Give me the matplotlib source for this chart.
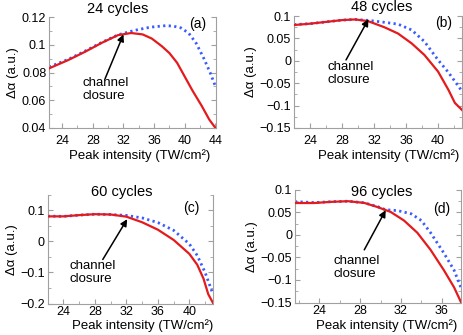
import matplotlib
matplotlib.use("Agg")
import matplotlib.pyplot as plt
from matplotlib.ticker import FuncFormatter, AutoMinorLocator

plt.rcParams['font.family'] = ['Liberation Sans', 'DejaVu Sans']

# panel (a) 24 cycles
a_x_red = [22.3, 24.8, 27.0, 29.2, 31.3, 33.0, 34.5, 35.7, 37.0, 38.0, 39.0, 40.0, 41.0, 42.2, 43.2, 44.0]
a_y_red = [0.083, 0.089, 0.095, 0.1015, 0.107, 0.1085, 0.1075, 0.1045, 0.099, 0.094, 0.087, 0.077, 0.067, 0.056, 0.046, 0.040]
a_x_blue = [22.3, 24.8, 27.0, 29.2, 31.3, 33.5, 35.5, 37.5, 38.5, 39.5, 40.5, 41.5, 42.5, 43.3, 44.0]
a_y_blue = [0.084, 0.0895, 0.0955, 0.1018, 0.1072, 0.1105, 0.1127, 0.1138, 0.1135, 0.1122, 0.1085, 0.101, 0.090, 0.080, 0.070]

# panel (b) 48 cycles
b_x_red = [22.0, 24.0, 26.0, 28.0, 29.6, 31.2, 33.3, 35.0, 36.7, 38.3, 40.0, 41.3, 42.1, 43.0]
b_y_red = [0.080, 0.083, 0.087, 0.091, 0.0925, 0.089, 0.075, 0.061, 0.039, 0.013, -0.024, -0.065, -0.094, -0.110]
b_x_blue = [22.0, 24.0, 26.0, 28.0, 29.6, 31.2, 32.9, 35.0, 36.7, 38.3, 40.0, 41.3, 43.0]
b_y_blue = [0.081, 0.083, 0.087, 0.091, 0.0925, 0.0905, 0.087, 0.082, 0.069, 0.043, 0.002, -0.026, -0.068]

# panel (c) 60 cycles
c_x_red = [22.0, 24.0, 26.0, 28.0, 30.0, 32.0, 34.0, 36.0, 38.0, 40.0, 41.0, 41.8, 42.4, 43.0]
c_y_red = [0.081, 0.081, 0.085, 0.088, 0.087, 0.080, 0.062, 0.038, 0.005, -0.040, -0.075, -0.120, -0.170, -0.198]
c_x_blue = [22.0, 24.0, 26.0, 28.0, 30.0, 32.0, 34.0, 36.0, 38.0, 40.0, 41.0, 42.0, 43.0]
c_y_blue = [0.082, 0.081, 0.085, 0.088, 0.087, 0.084, 0.076, 0.061, 0.036, -0.008, -0.045, -0.100, -0.170]

# panel (d) 96 cycles
d_x_red = [21.6, 23.5, 25.1, 26.8, 28.4, 29.7, 31.0, 32.3, 33.6, 34.9, 36.2, 37.2, 37.9]
d_y_red = [0.071, 0.071, 0.0735, 0.075, 0.0712, 0.062, 0.051, 0.032, 0.005, -0.033, -0.078, -0.116, -0.150]
d_x_blue = [21.6, 23.5, 25.1, 26.8, 28.4, 29.7, 30.5, 31.7, 33.0, 34.0, 34.9, 36.2, 37.2, 37.9]
d_y_blue = [0.074, 0.072, 0.0738, 0.075, 0.0715, 0.063, 0.056, 0.054, 0.047, 0.032, 0.005, -0.040, -0.078, -0.118]

panels = [
    dict(rect=[0.106, 0.618, 0.361, 0.331], xr=a_x_red, yr=a_y_red, xb=a_x_blue, yb=a_y_blue,
         xlim=(22.3, 44.1), ylim=(0.04, 0.12), xt=[24, 28, 32, 36, 40, 44], yt=[0.04, 0.06, 0.08, 0.1, 0.12],
         title='24 cycles', tpos=(0.41, 1.07), lab='(a)', lpos=(0.89, 0.94),
         tip=(32.0, 0.1075), tail=(29.6, 0.0755), txt=(26.7, 0.077), xl=69, xly=156, pad=5.0),
    dict(rect=[0.635, 0.618, 0.363, 0.334], xr=b_x_red, yr=b_y_red, xb=b_x_blue, yb=b_y_blue,
         xlim=(22.0, 43.0), ylim=(-0.15, 0.1), xt=[24, 28, 32, 36, 40], yt=[-0.15, -0.1, -0.05, 0, 0.05, 0.1],
         title='48 cycles', tpos=(0.52, 1.08), lab='(b)', lpos=(0.89, 0.94),
         tip=(31.3, 0.093), tail=(28.5, 0.002), txt=(26.2, 0.0), xl=318, xly=156, pad=5.0),
    dict(rect=[0.103, 0.094, 0.357, 0.324], xr=c_x_red, yr=c_y_red, xb=c_x_blue, yb=c_y_blue,
         xlim=(22.0, 43.0), ylim=(-0.2, 0.15), xt=[24, 28, 32, 36, 40], yt=[-0.2, -0.1, 0, 0.1],
         title='60 cycles', tpos=(0.45, 1.03), lab='(c)', lpos=(0.87, 0.88),
         tip=(32.1, 0.072), tail=(29.0, -0.058), txt=(24.8, -0.06), xl=72, xly=326, pad=1.5),
    dict(rect=[0.637, 0.097, 0.359, 0.336], xr=d_x_red, yr=d_y_red, xb=d_x_blue, yb=d_y_blue,
         xlim=(21.6, 37.9), ylim=(-0.15, 0.1), xt=[24, 28, 32, 36], yt=[-0.15, -0.1, -0.05, 0, 0.05, 0.1],
         title='96 cycles', tpos=(0.52, 0.98), lab='(d)', lpos=(0.88, 0.83),
         tip=(30.5, 0.055), tail=(28.4, -0.033), txt=(25.4, -0.044), xl=316, xly=326, pad=1.5),
]

W, H = 463, 335
fig = plt.figure(figsize=(W / 100, H / 100), dpi=100)

fmt = FuncFormatter(lambda v, p: ('%g' % round(v, 3)).replace('-', '\u2212'))

for p in panels:
    ax = fig.add_axes(p['rect'])
    ax.plot(p['xb'], p['yb'], color='#3a5cff', lw=2.0, linestyle=(0, (0.8, 1.2)), zorder=2)
    ax.plot(p['xr'], p['yr'], color='#e41a1c', lw=1.6, zorder=3)
    ax.set_xlim(*p['xlim'])
    ax.set_ylim(*p['ylim'])
    ax.set_xticks(p['xt'])
    ax.set_yticks(p['yt'])
    ax.yaxis.set_major_formatter(fmt)
    ax.xaxis.set_minor_locator(AutoMinorLocator(2))
    ax.yaxis.set_minor_locator(AutoMinorLocator(2))
    ax.spines['top'].set_visible(False)
    for s in ['left', 'right', 'bottom']:
        ax.spines[s].set_color('#a0a0a0')
        ax.spines[s].set_linewidth(0.8)
    ax.tick_params(which='both', direction='in', colors='#a0a0a0', labelcolor='black',
                   labelsize=9, right=True, top=False, pad=2)
    ax.tick_params(axis='x', which='major', pad=p['pad'])
    ax.tick_params(which='major', length=3.5)
    ax.tick_params(which='minor', length=2)
    ax.set_ylabel('\u0394\u03b1 (a.u.)', fontsize=9.5, labelpad=2)
    ax.text(*p['tpos'], p['title'], transform=ax.transAxes, ha='center', va='center', fontsize=10.5)
    ax.text(*p['lpos'], p['lab'], transform=ax.transAxes, ha='center', va='center', fontsize=10)
    ax.annotate('', xy=p['tip'], xytext=p['tail'],
                arrowprops=dict(arrowstyle='-|>', color='black', lw=1.1, mutation_scale=10,
                                shrinkA=0, shrinkB=0))
    ax.text(*p['txt'], 'channel\nclosure', ha='left', va='top', fontsize=9.5, linespacing=1.15)
    fig.text(p['xl'] / W, 1 - p['xly'] / H, 'Peak intensity (TW/cm\u00b2)', ha='left', va='center',
             fontsize=9.5)

fig.savefig('out.png', dpi=100)
